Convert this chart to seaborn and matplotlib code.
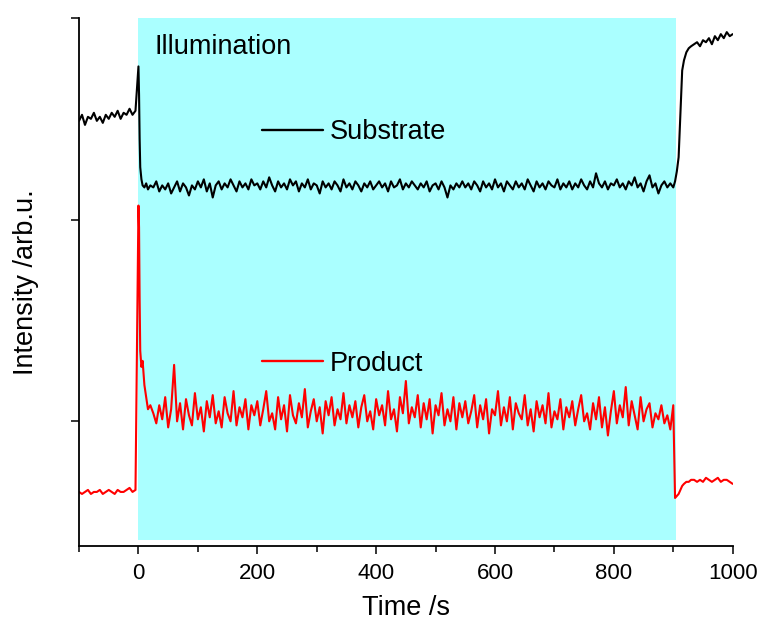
import numpy as np
import pandas as pd
import matplotlib
matplotlib.use("Agg")
import matplotlib.pyplot as plt
import seaborn as sns
from matplotlib.lines import Line2D

# ---------------- data ----------------
time_pre = [-100, -95, -90, -85, -80, -75, -70, -65, -60, -55,
            -50, -45, -40, -35, -30, -25, -20, -15, -10, -5]
time_on_start = [0, 1, 2, 3, 5, 7, 10, 13, 16, 20]
time_on = [25 + 5 * i for i in range(176)]  # 25 ... 900 s, 5 s sampling
time_off = [903, 906, 909, 912, 915, 918, 922, 926, 930,
            935, 940, 945, 950, 955, 960, 965, 970, 975, 980, 985, 990, 995, 1000]

substrate_pre = [249, 252, 247, 251, 250, 253, 249, 251, 248, 252,
                 250, 253, 251, 254, 250, 253, 252, 255, 252, 254]
substrate_on_start = [276, 262, 240, 226, 220, 217, 216, 218, 215, 217]
substrate_on = [
    216, 219, 214, 217, 215, 218, 213, 216, 219, 214, 218, 216, 212, 217, 215, 219, 216, 220, 214, 218,
    211, 217, 219, 215, 218, 216, 220, 217, 214, 219, 216, 218, 215, 220, 217,
    218, 215, 219, 216, 221, 217, 214, 219, 216, 218, 215, 220, 217, 219, 214, 218, 216, 220, 215, 218,
    217, 213, 219, 216, 218, 215, 219, 217, 214, 220, 216, 218, 215, 219, 217,
    214, 218, 216, 219, 215, 217, 219, 216, 218, 214, 219, 216, 217, 220, 215, 218, 216, 219, 217, 215,
    218, 216, 219, 214, 217, 218, 215, 219, 216, 211, 217, 215, 218, 216, 219,
    216, 218, 215, 219, 217, 214, 219, 216, 218, 215, 220, 216, 218, 214, 219, 217, 215, 219, 216, 218,
    215, 220, 217, 214, 219, 216, 218, 215, 219, 217, 216, 220, 215, 218, 216,
    219, 215, 218, 216, 220, 217, 215, 219, 216, 223, 218, 216, 219, 215, 218, 217, 220, 216, 218, 215,
    219, 217, 221, 216, 218, 214, 219, 222, 216, 218, 213, 217, 219, 216, 218, 216]
substrate_off = [219, 224, 231, 252, 274, 279, 283, 285, 286,
                 287, 288, 286, 289, 288, 290, 287, 291, 289, 292, 290, 293, 291, 292]

product_pre = [65, 64, 65, 66, 64, 65, 65, 66, 64, 65,
               66, 65, 64, 66, 65, 65, 66, 67, 65, 66]
product_on_start = [207, 196, 160, 135, 127, 130, 118, 112, 106, 108]
product_on = [
    104, 99, 108, 101, 112, 97, 106, 128, 100, 109, 96, 111, 103, 98, 114, 101, 107, 95, 110, 102,
    113, 99, 105, 97, 112, 104, 100, 115, 98, 107, 102, 111, 96, 108, 103,
    110, 98, 106, 115, 100, 104, 96, 112, 101, 108, 95, 113, 103, 99, 109, 102, 116, 97, 105, 111,
    100, 107, 94, 110, 103, 112, 98, 106, 101, 114, 99, 108, 102, 110, 97,
    107, 113, 100, 105, 96, 111, 103, 108, 98, 115, 101, 106, 95, 112, 104, 120, 99, 107, 102, 113,
    97, 109, 101, 111, 94, 108, 103, 114, 98, 106, 100, 112, 96, 109, 102,
    110, 99, 105, 113, 97, 108, 101, 111, 94, 106, 103, 115, 98, 107, 100, 112, 96, 109, 104, 101,
    113, 98, 106, 95, 110, 102, 108, 99, 114, 97, 105, 101, 111, 96, 107,
    102, 110, 98, 106, 113, 100, 104, 96, 109, 101, 112, 97, 107, 93, 105, 115, 99, 108, 102, 117,
    98, 110, 103, 96, 112, 100, 106, 109, 97, 104, 101, 108, 99, 103, 96, 108]
product_off = [62, 63, 64, 66, 68, 69, 70, 70, 71,
               71, 70, 71, 70, 72, 71, 70, 71, 72, 70, 71, 71, 70, 69]

illum_start, illum_end = 0, 905
x_ticks = [0, 200, 400, 600, 800, 1000]
y_ticks = [100, 200, 300]

# ---------------- assemble ----------------
time = time_pre + time_on_start + time_on + time_off
df = pd.DataFrame({
    "Time": time * 2,
    "Intensity": (substrate_pre + substrate_on_start + substrate_on + substrate_off)
                 + (product_pre + product_on_start + product_on + product_off),
    "Species": ["Substrate"] * len(time) + ["Product"] * len(time),
})

sns.set_style("ticks")
plt.rcParams["font.family"] = ["Liberation Sans", "DejaVu Sans"]
plt.rcParams["text.color"] = "black"
plt.rcParams["axes.labelcolor"] = "black"
plt.rcParams["xtick.color"] = "black"
plt.rcParams["ytick.color"] = "black"
plt.rcParams["axes.edgecolor"] = "black"

fig = plt.figure(figsize=(7.57, 6.21), dpi=100)
ax = fig.add_axes([0.1044, 0.1208, 0.8635, 0.8502])

ax.axvspan(illum_start, illum_end, ymin=0.012, ymax=1.0, color="#aaffff", lw=0, zorder=0)

sns.lineplot(data=df, x="Time", y="Intensity", hue="Species",
             palette={"Substrate": "black", "Product": "#ff0000"},
             linewidth=1.5, ax=ax, legend=False, estimator=None, sort=False)

ax.set_xlim(-100, 1000)
ax.set_ylim(38.2, 300)
ax.set_xticks(x_ticks)
ax.set_xticks([-100] + [100, 300, 500, 700, 900], minor=True)
ax.set_yticks(y_ticks)
ax.set_yticklabels([])
ax.tick_params(axis="x", which="major", direction="out", length=6, width=1.1, labelsize=16, pad=6)
ax.tick_params(axis="x", which="minor", direction="out", length=4, width=1.1)
ax.tick_params(axis="y", which="major", direction="out", length=6, width=1.1)
for s in ["left", "bottom"]:
    ax.spines[s].set_linewidth(1.3)
for s in ["top", "right"]:
    ax.spines[s].set_visible(False)

ax.set_xlabel("Time /s", fontsize=19.5, labelpad=8)
ax.set_ylabel("Intensity /arb.u.", fontsize=19.5, labelpad=19)

ax.text(0.116, 0.945, "Illumination", transform=ax.transAxes, fontsize=19.5,
        ha="left", va="center", color="black")

h_sub = Line2D([], [], color="black", lw=1.7)
h_pro = Line2D([], [], color="#ff0000", lw=1.7)
leg1 = ax.legend([h_sub], ["Substrate"], loc="center left", bbox_to_anchor=(0.28, 0.784),
                 frameon=False, fontsize=19.5, handlelength=2.25, handletextpad=0.25,
                 borderaxespad=0, borderpad=0)
ax.add_artist(leg1)
ax.legend([h_pro], ["Product"], loc="center left", bbox_to_anchor=(0.28, 0.345),
          frameon=False, fontsize=19.5, handlelength=2.25, handletextpad=0.25,
          borderaxespad=0, borderpad=0)

fig.savefig("out.png", dpi=100)
